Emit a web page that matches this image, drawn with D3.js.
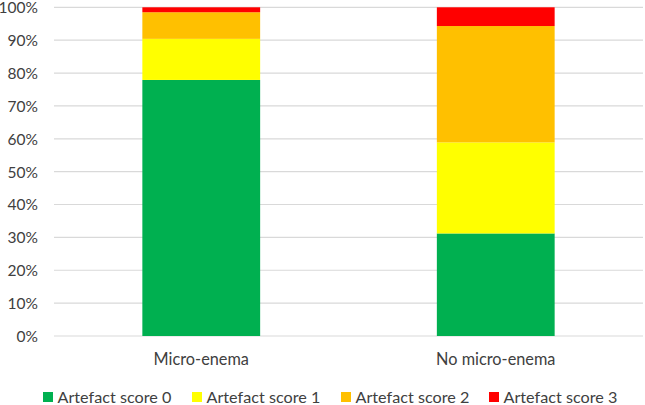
<!DOCTYPE html>
<html><head><meta charset="utf-8">
<script src="https://cdn.jsdelivr.net/npm/d3@7"></script>
<style>body{margin:0;background:#fff}svg{display:block}text{font-family:Lato,"Open Sans",sans-serif;fill:#404040}</style>
</head><body><svg id="c" width="645" height="405"></svg>
<script>
const categories = ["Micro-enema", "No micro-enema"];
const seriesNames = ["Artefact score 0", "Artefact score 1", "Artefact score 2", "Artefact score 3"];
const score0 = [77.9, 31.2];
const score1 = [12.5, 27.7];
const score2 = [8.1, 35.4];
const score3 = [1.5, 5.7];
const colors = ["#00b050", "#ffff00", "#ffc000", "#ff0000"];
const yTicks = [0,10,20,30,40,50,60,70,80,90,100];

(function(){
const svg = d3.select("#c");
const mLeft = 54, mRight = 643, mTop = 7.3, mBottom = 336;
const x = d3.scaleBand().domain(categories).range([mLeft, mRight]).paddingInner(0.6).paddingOuter(0.3);
const y = d3.scaleLinear().domain([0,100]).range([mBottom, mTop]);

const rows = categories.map((c,i)=>({cat:c, "Artefact score 0":score0[i], "Artefact score 1":score1[i], "Artefact score 2":score2[i], "Artefact score 3":score3[i]}));
const stack = d3.stack().keys(seriesNames)(rows);

svg.append("g").selectAll("line").data(yTicks).join("line")
  .attr("x1",mLeft).attr("x2",mRight).attr("y1",d=>y(d)).attr("y2",d=>y(d))
  .attr("stroke","#d9d9d9").attr("stroke-width",1.2);

const yAxis = d3.axisLeft(y).tickValues(yTicks).tickFormat(d=>d+"%").tickSize(0).tickPadding(0);
const ga = svg.append("g").attr("transform","translate(38,0.5)").call(yAxis);
ga.select(".domain").remove();
ga.selectAll("text").style("font-size","15.5px").attr("fill","#404040").attr("font-family","Lato");

svg.append("g").selectAll("g").data(stack).join("g").attr("fill",(d,i)=>colors[i])
  .selectAll("rect").data(d=>d).join("rect")
  .attr("x",d=>x(d.data.cat)).attr("width",x.bandwidth())
  .attr("y",d=>y(d[1])).attr("height",d=>y(d[0])-y(d[1]));

const xAxis = d3.axisBottom(x).tickSize(0).tickPadding(0);
const gx = svg.append("g").attr("transform",`translate(0,${mBottom+17.5})`).call(xAxis);
gx.select(".domain").remove();
gx.selectAll("text").style("font-size","16.3px").attr("fill","#404040").attr("font-family","Lato");

const legX = [43, 192, 341, 489];
const lg = svg.append("g").selectAll("g").data(seriesNames).join("g")
  .attr("transform",(d,i)=>`translate(${legX[i]},397)`);
lg.append("rect").attr("x",0).attr("y",-5).attr("width",10).attr("height",10).attr("fill",(d,i)=>colors[i]);
lg.append("text").attr("x",14.5).attr("y",0).attr("dy","0.35em").style("font-size","16.2px").text(d=>d);
})();
</script></body></html>
